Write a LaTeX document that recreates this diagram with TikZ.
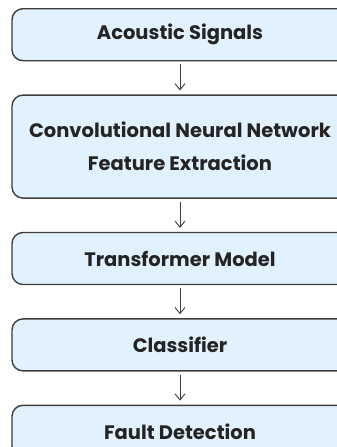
\documentclass[tikz,border=0pt]{standalone}
\usepackage{fontspec}
\setmainfont{Poppins}
\usetikzlibrary{positioning,arrows.meta}
\definecolor{boxfill}{RGB}{225,241,253}
\definecolor{boxline}{RGB}{62,62,62}
\definecolor{boxtext}{RGB}{36,36,36}
\tikzset{
  block/.style={draw=boxline,line width=1.4pt,fill=boxfill,rounded corners=11pt,
    minimum width=336pt,minimum height=52pt,inner sep=2pt,align=center,
    text=boxtext,font=\bfseries\fontsize{19.5}{33}\selectfont},
  flow/.style={draw=boxline,line width=0.9pt,-{Straight Barb[length=6pt,width=10pt]},
    shorten <=3pt,shorten >=4pt}
}

\begin{document}
\begin{tikzpicture}[node distance=33pt]
  \useasboundingbox (0,0) rectangle (337pt,-447pt);
  \node[block,anchor=north] (signals) at (180pt,-8pt) {Acoustic Signals};
  \node[block,below=of signals,minimum height=103pt] (cnn)
    {Convolutional Neural Network\\Feature Extraction};
  \node[block,below=of cnn] (transformer) {Transformer Model};
  \node[block,below=of transformer] (classifier) {Classifier};
  \node[block,below=of classifier] (fault) {Fault Detection};

  \draw[flow] (signals) -- (cnn);
  \draw[flow] (cnn) -- (transformer);
  \draw[flow] (transformer) -- (classifier);
  \draw[flow] (classifier) -- (fault);
\end{tikzpicture}
\end{document}
